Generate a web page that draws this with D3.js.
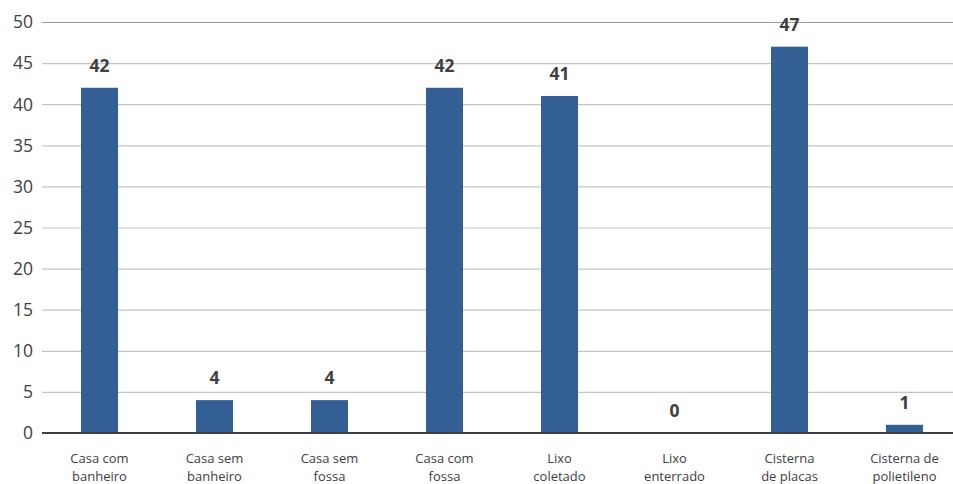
<!DOCTYPE html>
<html><head><meta charset="utf-8">
<script src="https://cdn.jsdelivr.net/npm/d3@7"></script>
<style>body{margin:0;background:#fff}svg{display:block}text{font-family:"Open Sans","Noto Sans",sans-serif}</style>
</head><body><svg id="c" width="953" height="484"></svg>
<script>
const categories = [["Casa com","banheiro"],["Casa sem","banheiro"],["Casa sem","fossa"],["Casa com","fossa"],["Lixo","coletado"],["Lixo","enterrado"],["Cisterna","de placas"],["Cisterna de","polietileno"]];
const values = [42,4,4,42,41,0,47,1];
const yTicks = [0,5,10,15,20,25,30,35,40,45,50];

(function(){
const svg = d3.select("#c");
const mLeft = 42, mRight = 953, mTop = 22, mBottom = 433;
const x = d3.scaleBand().domain(d3.range(categories.length)).range([mLeft,mLeft+920]).paddingInner(0.678).paddingOuter(0.339);
const y = d3.scaleLinear().domain([0,50]).range([mBottom,mTop]);

svg.append("g").selectAll("line").data(yTicks.filter(d=>d>0)).join("line")
  .attr("x1",mLeft).attr("x2",mRight).attr("y1",d=>y(d)+0.5).attr("y2",d=>y(d)+0.5)
  .attr("stroke",d=>d===50?"#999":"#c4c4c4").attr("stroke-width",1.2);

svg.append("g").selectAll("text").data(yTicks).join("text")
  .attr("x",33).attr("y",d=>y(d)).attr("dy","0.36em").attr("text-anchor","end")
  .attr("font-size",17.5).attr("fill","#404040").text(d=>d);

svg.append("g").selectAll("rect").data(values).join("rect")
  .attr("x",(d,i)=>x(i)).attr("width",x.bandwidth())
  .attr("y",d=>y(d)).attr("height",d=>mBottom-y(d)).attr("fill","#335f94");

svg.append("line").attr("x1",mLeft).attr("x2",mRight).attr("y1",mBottom).attr("y2",mBottom)
  .attr("stroke","#404040").attr("stroke-width",2);

svg.append("g").selectAll("text").data(values).join("text")
  .attr("x",(d,i)=>x(i)+x.bandwidth()/2).attr("y",d=>y(d)-16)
  .attr("text-anchor","middle").attr("font-size",17.5).attr("font-weight","bold").attr("fill","#404040").text(d=>d);

const xl = svg.append("g").selectAll("text").data(categories).join("text")
  .attr("x",(d,i)=>x(i)+x.bandwidth()/2).attr("y",463)
  .attr("text-anchor","middle").attr("font-size",13).attr("fill","#404040");
xl.each(function(d,i){
  const t=d3.select(this);
  d.forEach((s,j)=>t.append("tspan").attr("x",x(i)+x.bandwidth()/2).attr("dy",j?18:0).text(s));
});
})();
</script></body></html>
